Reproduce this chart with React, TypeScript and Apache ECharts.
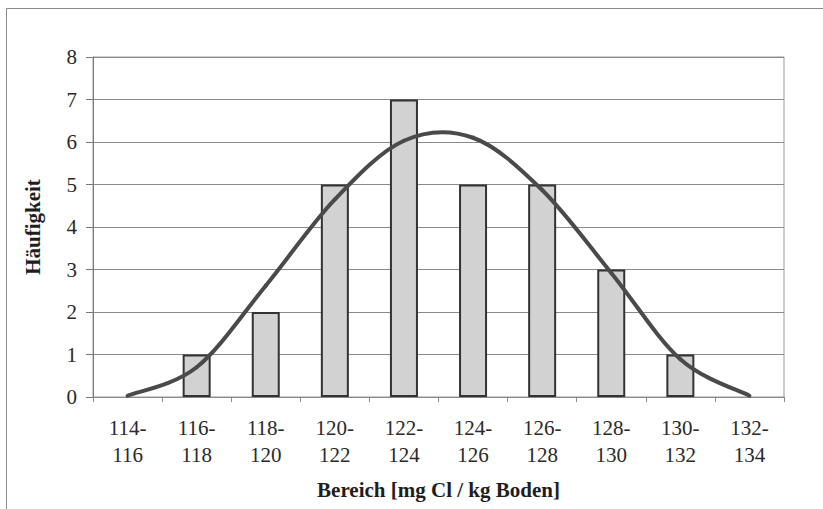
import React, { useEffect, useRef } from "react";
import * as echarts from "echarts";

const categories = ["114-\n116", "116-\n118", "118-\n120", "120-\n122", "122-\n124", "124-\n126", "126-\n128", "128-\n130", "130-\n132", "132-\n134"];
const frequencies = [0, 1, 2, 5, 7, 5, 5, 3, 1, 0];
const normalCurve = [0.03, 0.7, 2.62, 4.65, 6.03, 6.1, 4.87, 2.92, 0.89, 0.03];
const yTicks = { min: 0, max: 8, interval: 1 };
const xTitle = "Bereich [mg Cl / kg Boden]";
const yTitle = "Häufigkeit";

const FONT = "'Liberation Serif', 'Times New Roman', serif";

export default function App() {
  const ref = useRef<HTMLDivElement>(null);
  useEffect(() => {
    if (!ref.current) return;
    const chart = echarts.init(ref.current, undefined, { renderer: "svg" });
    const n = normalCurve.length;
    chart.setOption({
      animation: false,
      backgroundColor: "#ffffff",
      graphic: [
        {
          type: "rect",
          shape: { x: 6.5, y: 8.5, width: 840, height: 520 },
          style: { fill: "none", stroke: "#8a8a8a", lineWidth: 1 },
          silent: true,
          z: -1,
        },
      ],
      grid: {
        left: 93,
        top: 57,
        right: 39,
        bottom: 112,
        show: true,
        borderColor: "#9a9a9a",
        borderWidth: 1,
        backgroundColor: "#ffffff",
      },
      xAxis: {
        type: "category",
        data: categories,
        boundaryGap: true,
        name: xTitle,
        nameLocation: "middle",
        nameGap: 82,
        nameTextStyle: { fontFamily: FONT, fontSize: 21, fontWeight: "bold", color: "#1e1e1e" },
        axisLine: { show: true, lineStyle: { color: "#8a8a8a", width: 1 } },
        axisTick: { show: true, length: 5, interval: 0, alignWithLabel: false, lineStyle: { color: "#8a8a8a" } },
        axisLabel: {
          interval: 0,
          margin: 17,
          fontFamily: FONT,
          fontSize: 21,
          lineHeight: 27.5,
          color: "#2a2a2a",
        },
        splitLine: { show: false },
      },
      yAxis: {
        type: "value",
        min: yTicks.min,
        max: yTicks.max,
        interval: yTicks.interval,
        name: yTitle,
        nameLocation: "middle",
        nameGap: 50,
        nameRotate: 90,
        nameTextStyle: { fontFamily: FONT, fontSize: 21, fontWeight: "bold", color: "#1e1e1e" },
        axisLine: { show: true, lineStyle: { color: "#7a7a7a", width: 1 } },
        axisTick: { show: true, length: 7, lineStyle: { color: "#7a7a7a" } },
        axisLabel: { margin: 16, fontFamily: FONT, fontSize: 21, color: "#2a2a2a" },
        splitLine: { show: true, lineStyle: { color: "#8a8a8a", width: 1 } },
      },
      series: [
        {
          type: "bar",
          data: frequencies.map((v) =>
            v === 0 ? { value: v, itemStyle: { borderWidth: 0, color: "transparent" } } : v
          ),
          barWidth: 28,
          itemStyle: { color: "#d2d2d2", borderColor: "#333333", borderWidth: 2 },
          z: 2,
        },
        {
          type: "custom",
          coordinateSystem: "cartesian2d",
          data: normalCurve.map((v, i) => [i, v]),
          encode: { x: 0, y: 1 },
          clip: false,
          z: 3,
          renderItem: (params: any, api: any) => {
            const i = params.dataIndex;
            if (i >= n - 1) return null;
            const pt = (k: number) => {
              const kk = Math.max(0, Math.min(n - 1, k));
              return api.coord([kk, normalCurve[kk]]);
            };
            const p0 = pt(i - 1);
            const p1 = pt(i);
            const p2 = pt(i + 1);
            const p3 = pt(i + 2);
            const t = 1 / 6;
            return {
              type: "bezierCurve",
              shape: {
                x1: p1[0],
                y1: p1[1],
                cpx1: p1[0] + (p2[0] - p0[0]) * t,
                cpy1: p1[1] + (p2[1] - p0[1]) * t,
                cpx2: p2[0] - (p3[0] - p1[0]) * t,
                cpy2: p2[1] - (p3[1] - p1[1]) * t,
                x2: p2[0],
                y2: p2[1],
              },
              style: { fill: "none", stroke: "#4a4a4a", lineWidth: 4, lineCap: "round" },
            };
          },
        },
      ],
    });
    return () => chart.dispose();
  }, []);
  return <div ref={ref} style={{ width: 823, height: 509, position: "absolute", left: 0, top: 0 }} />;
}
